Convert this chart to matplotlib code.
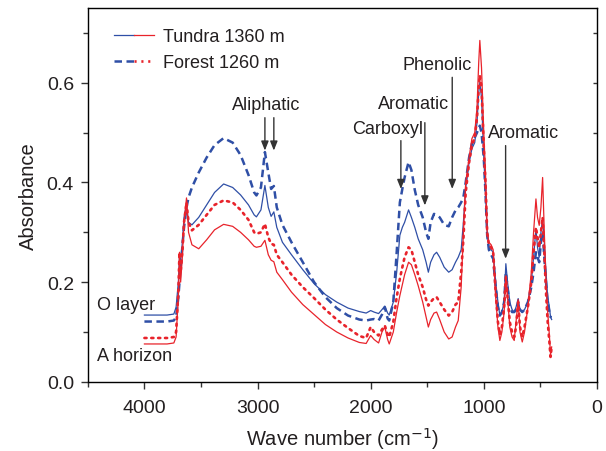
import matplotlib
matplotlib.use("Agg")
import matplotlib.pyplot as plt
from matplotlib.lines import Line2D
from matplotlib.legend_handler import HandlerTuple

plt.rcParams['font.family'] = ['Liberation Sans', 'DejaVu Sans']

# wave numbers (cm-1), shared by all four spectra
wave = [4000, 3800, 3740, 3720, 3700, 3690, 3680, 3665, 3650, 3628, 3610, 3580, 3520,
        3450, 3380, 3300, 3220, 3150, 3080, 3030, 3010, 2970, 2935, 2905, 2880, 2856,
        2830, 2780, 2700, 2600, 2500, 2400, 2300, 2200, 2100, 2040, 2000, 1970, 1930,
        1900, 1875, 1850, 1836, 1800, 1770, 1742, 1720, 1700, 1665, 1640, 1610, 1580,
        1540, 1510, 1490, 1470, 1440, 1417, 1390, 1350, 1310, 1280, 1250, 1226, 1200,
        1180, 1160, 1130, 1105, 1080, 1060, 1045, 1035, 1020, 1000, 985, 970, 955, 935,
        917, 895, 875, 858, 840, 820, 805, 790, 770, 750, 731, 715, 696, 680, 660, 640,
        610, 580, 560, 539, 525, 510, 495, 480, 465, 450, 435, 420, 410, 400]

# Tundra O layer (blue solid)
tundra_o = [0.134, 0.134, 0.136, 0.15, 0.2, 0.25, 0.24, 0.28, 0.33, 0.355, 0.32, 0.315, 0.33,
            0.355, 0.38, 0.397, 0.39, 0.375, 0.355, 0.335, 0.331, 0.345, 0.394, 0.35, 0.332, 0.341,
            0.31, 0.28, 0.255, 0.225, 0.197, 0.175, 0.16, 0.148, 0.141, 0.138, 0.143, 0.14, 0.137,
            0.145, 0.152, 0.138, 0.134, 0.16, 0.22, 0.294, 0.31, 0.32, 0.345, 0.33, 0.31, 0.287,
            0.265, 0.24, 0.22, 0.24, 0.255, 0.26, 0.25, 0.23, 0.22, 0.225, 0.24, 0.25, 0.265,
            0.321, 0.39, 0.44, 0.468, 0.48, 0.52, 0.58, 0.601, 0.57, 0.45, 0.38, 0.3, 0.27, 0.265,
            0.26, 0.2, 0.16, 0.133, 0.14, 0.16, 0.237, 0.2, 0.16, 0.145, 0.14, 0.15, 0.167, 0.145, 0.14, 0.145,
            0.16, 0.2, 0.25, 0.307, 0.27, 0.25, 0.3, 0.327, 0.28, 0.22, 0.17, 0.15, 0.13, 0.125]

# Tundra A horizon (red solid)
tundra_a = [0.076, 0.076, 0.078, 0.09, 0.17, 0.26, 0.2, 0.25, 0.32, 0.369, 0.3, 0.275, 0.267,
            0.285, 0.305, 0.316, 0.312, 0.3, 0.285, 0.272, 0.27, 0.272, 0.284, 0.255, 0.244, 0.241,
            0.22, 0.205, 0.18, 0.155, 0.135, 0.115, 0.1, 0.088, 0.079, 0.077, 0.093, 0.085, 0.078,
            0.1, 0.11, 0.085, 0.076, 0.1, 0.14, 0.173, 0.195, 0.215, 0.24, 0.235, 0.215, 0.193,
            0.16, 0.13, 0.11, 0.125, 0.138, 0.14, 0.125, 0.1, 0.086, 0.09, 0.11, 0.123, 0.19,
            0.3, 0.4, 0.45, 0.488, 0.5, 0.55, 0.64, 0.685, 0.63, 0.5, 0.42, 0.3, 0.28, 0.275,
            0.265, 0.17, 0.11, 0.083, 0.1, 0.14, 0.213, 0.17, 0.11, 0.09, 0.083, 0.12, 0.165, 0.1, 0.08, 0.1,
            0.15, 0.22, 0.3, 0.367, 0.33, 0.314, 0.35, 0.41, 0.3, 0.2, 0.14, 0.093, 0.055, 0.07]

# Forest O layer (blue dashed)
forest_o = [0.121, 0.121, 0.123, 0.13, 0.17, 0.2, 0.23, 0.27, 0.31, 0.35, 0.37, 0.39, 0.42,
            0.45, 0.475, 0.489, 0.48, 0.455, 0.415, 0.38, 0.374, 0.39, 0.461, 0.42, 0.387, 0.393,
            0.35, 0.315, 0.28, 0.24, 0.2, 0.17, 0.148, 0.133, 0.125, 0.123, 0.125, 0.126, 0.123,
            0.135, 0.15, 0.127, 0.123, 0.16, 0.26, 0.36, 0.387, 0.41, 0.441, 0.425, 0.385, 0.355,
            0.33, 0.3, 0.287, 0.32, 0.337, 0.335, 0.33, 0.315, 0.312, 0.33, 0.344, 0.35, 0.36,
            0.371, 0.4, 0.45, 0.478, 0.49, 0.5, 0.51, 0.514, 0.5, 0.448, 0.38, 0.294, 0.265, 0.255,
            0.247, 0.19, 0.15, 0.133, 0.14, 0.16, 0.22, 0.19, 0.15, 0.14, 0.14, 0.145, 0.15, 0.145, 0.14, 0.145,
            0.16, 0.19, 0.22, 0.26, 0.25, 0.24, 0.28, 0.3, 0.25, 0.2, 0.16, 0.14, 0.13, 0.13]

# Forest A horizon (red dotted)
forest_a = [0.088, 0.088, 0.09, 0.1, 0.18, 0.26, 0.22, 0.26, 0.32, 0.36, 0.32, 0.304, 0.315,
            0.335, 0.355, 0.364, 0.36, 0.345, 0.325, 0.3, 0.297, 0.3, 0.317, 0.29, 0.277, 0.275,
            0.255, 0.24, 0.215, 0.19, 0.168, 0.145, 0.125, 0.108, 0.092, 0.088, 0.11, 0.1, 0.093,
            0.105, 0.113, 0.095, 0.09, 0.12, 0.17, 0.207, 0.23, 0.25, 0.27, 0.265, 0.24, 0.215,
            0.19, 0.165, 0.153, 0.16, 0.168, 0.17, 0.16, 0.145, 0.133, 0.14, 0.155, 0.16, 0.22,
            0.287, 0.38, 0.44, 0.475, 0.49, 0.53, 0.59, 0.615, 0.59, 0.47, 0.4, 0.3, 0.275, 0.27,
            0.26, 0.18, 0.12, 0.095, 0.11, 0.15, 0.21, 0.17, 0.12, 0.1, 0.09, 0.11, 0.16, 0.11, 0.09, 0.11,
            0.15, 0.2, 0.26, 0.31, 0.29, 0.27, 0.3, 0.33, 0.26, 0.18, 0.12, 0.08, 0.05, 0.07]

# annotations: label, label position (wn, y), arrow x (wn), arrow top, arrow tip
labels = ["Aliphatic", "Carboxyl", "Aromatic", "Phenolic", "Aromatic"]
label_pos = [(2920, 0.557), (1850, 0.509), (1618, 0.558), (1410, 0.636), (645, 0.501)]
arrow_x = [[2935, 2856], [1733], [1521], [1279], [807]]
arrow_top = [0.53, 0.484, 0.52, 0.611, 0.474]
arrow_tip = [0.464, 0.387, 0.354, 0.387, 0.247]

blue = '#2f4fa6'
red = '#e8232b'
txt = '#231f20'

fig = plt.figure(figsize=(6.06, 4.52), dpi=100)
ax = fig.add_axes([0.145, 0.153, 0.84, 0.827])

ax.plot(wave, forest_o, color=blue, lw=1.8, ls=(0, (3, 1.8)))
ax.plot(wave, tundra_o, color=blue, lw=0.9)
ax.plot(wave, forest_a, color=red, lw=1.9, ls=(0, (0.8, 1.8)), dash_capstyle='round')
ax.plot(wave, tundra_a, color=red, lw=0.9)

for lab, (lx, ly), xs, top, tip in zip(labels, label_pos, arrow_x, arrow_top, arrow_tip):
    ax.text(lx, ly, lab, ha='center', va='center', fontsize=13, color=txt)
    for x in xs:
        ax.annotate('', xy=(x, tip), xytext=(x, top),
                    arrowprops=dict(arrowstyle='-|>,head_length=0.55,head_width=0.22',
                                    color='#333333', lw=1.0, shrinkA=0, shrinkB=0))

ax.text(4420, 0.156, "O layer", ha='left', va='center', fontsize=13, color=txt)
ax.text(4420, 0.052, "A horizon", ha='left', va='center', fontsize=13, color=txt)

ax.set_xlim(4500, 0)
ax.set_ylim(0, 0.75)
ax.set_xticks([4000, 3000, 2000, 1000, 0])
ax.set_xticks([4500, 3500, 2500, 1500, 500], minor=True)
ax.set_yticks([0.0, 0.2, 0.4, 0.6])
ax.set_yticklabels(['0.0', '0.2', '0.4', '0.6'])
ax.set_yticks([0.1, 0.3, 0.5, 0.7], minor=True)
ax.tick_params(which='both', direction='out', colors='#333333', labelcolor=txt, labelsize=14)
ax.tick_params(which='major', length=5, width=1)
ax.tick_params(which='minor', length=3.5, width=1)
ax.tick_params(axis='x', which='major', pad=7)
ax.tick_params(axis='y', which='major', pad=5)
ax.set_xlabel('Wave number (cm$^{-1}$)', fontsize=14.5, color=txt, labelpad=7)
ax.set_ylabel('Absorbance', fontsize=14.5, color=txt, labelpad=6)
for sp in ax.spines.values():
    sp.set_color('#333333')
    sp.set_linewidth(1.0)

# inward ticks on the right spine
ax2 = ax.twinx()
ax2.set_ylim(0, 0.75)
ax2.set_yticks([0.1, 0.2, 0.3, 0.4, 0.5, 0.6, 0.7])
ax2.tick_params(direction='in', length=3, width=1, colors='#333333', labelright=False)

h1 = (Line2D([], [], color=blue, lw=0.9), Line2D([], [], color=red, lw=0.9))
h2 = (Line2D([], [], color=blue, lw=1.8, ls=(0, (3, 1.8))),
      Line2D([], [], color=red, lw=1.9, ls=(0, (0.8, 1.8))))
leg = ax.legend([h1, h2], ['Tundra 1360 m', 'Forest 1260 m'],
                handler_map={tuple: HandlerTuple(ndivide=None, pad=0)},
                loc='upper left', bbox_to_anchor=(0.02, 0.99), frameon=False,
                fontsize=13, handlelength=2.2, handletextpad=0.5, labelspacing=0.5)
for t in leg.get_texts():
    t.set_color(txt)

fig.savefig('out.png', dpi=100)
